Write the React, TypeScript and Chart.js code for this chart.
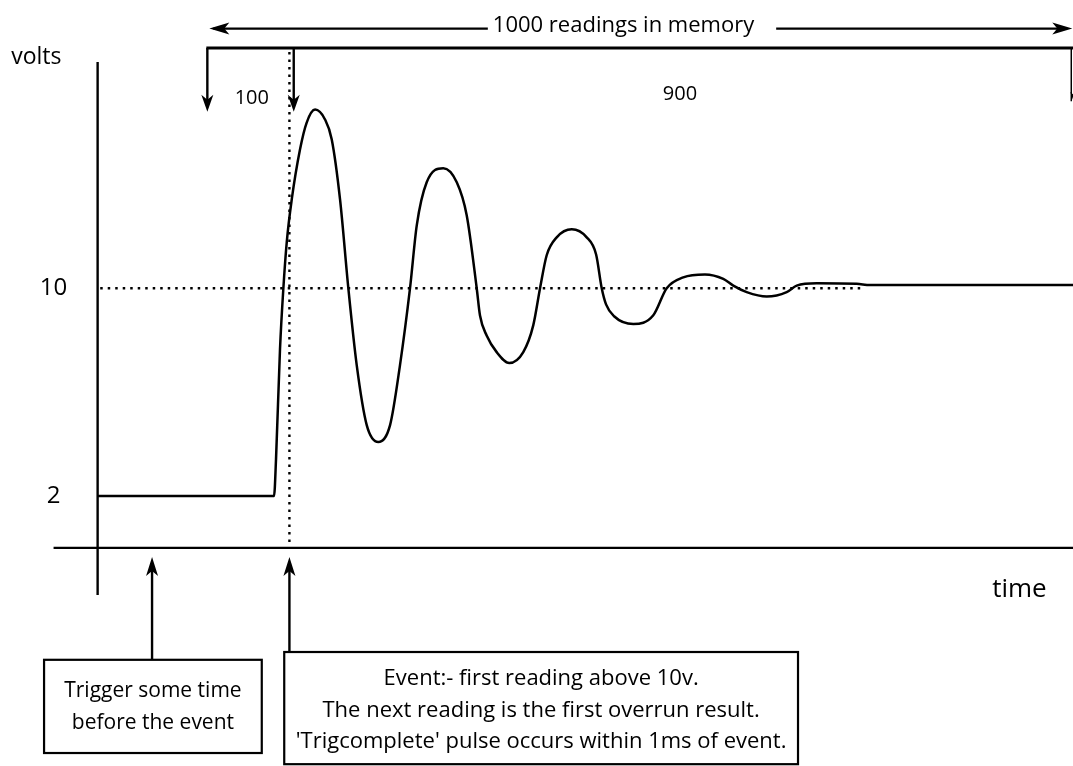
import React, { useEffect, useRef } from "react";
import { Chart, registerables } from "chart.js";

Chart.register(...registerables);

// ---- data: reading index (0 = first reading in memory) vs volts ----
const readingIndex = [
  -127, 77.2, 79.5, 84.1, 88, 91.9, 97.7, 107.3, 115, 124.7, 136.2, 144,
  153.6, 163.2, 172.9, 184.5, 197.9, 211.5, 223, 234.6, 242.4, 253.9, 273.1,
  288.7, 300.2, 311.8, 315.6, 323.3, 334.9, 349.5, 365.7, 377.3, 385.1,
  392.8, 404.4, 421.8, 439.1, 450, 456.5, 461.5, 470.8, 493.1, 516.2, 531.7,
  550.9, 576, 597.2, 608.8, 624.3, 647.5, 670.6, 682.2, 705.3, 751.6, 767,
  1002,
];
const volts = [
  2, 2, 3.42, 7.65, 10, 11.77, 13.42, 15.35, 16.38, 16.88, 16.5, 15.73,
  13.42, 10, 7.04, 4.73, 4.08, 4.73, 7.04, 10, 12.42, 14.08, 14.62, 14.08,
  12.81, 10, 8.95, 8.18, 7.54, 7.12, 7.54, 8.58, 10, 11.27, 11.96, 12.27,
  11.96, 11.3, 10, 9.38, 8.92, 8.62, 8.96, 10, 10.42, 10.53, 10.36, 10.1,
  9.85, 9.68, 9.85, 10.1, 10.19, 10.17, 10.12, 10.12,
];

// ---- labels / key values ----
const yTickValues = [10, 2];
const yTickLabels = ["10", "2"];
const threshold = 10;
const memoryStart = 0;
const memoryEnd = 1000;
const preTrigger = 100;
const eventReading = 95;
const triggerReading = -64;
const topLabel = "1000 readings in memory";
const preLabel = "100";
const postLabel = "900";
const yAxisTitle = "volts";
const xAxisTitle = "time";
const triggerText = ["Trigger some time", "before the event"];
const eventText = [
  "Event:- first reading above 10v.",
  "The next reading is the first overrun result.",
  "'Trigcomplete' pulse occurs within 1ms of event.",
];

const FONT = "'Open Sans', 'DejaVu Sans', sans-serif";

const diagramPlugin = {
  id: "diagram",
  afterDatasetsDraw(chart: any) {
    const ctx = chart.ctx as CanvasRenderingContext2D;
    const xs = chart.scales.x;
    const ys = chart.scales.y;
    const X = (v: number) => xs.getPixelForValue(v);
    const Y = (v: number) => ys.getPixelForValue(v);
    ctx.save();
    ctx.strokeStyle = "#000";
    ctx.fillStyle = "#000";
    ctx.lineCap = "butt";

    const line = (x1: number, y1: number, x2: number, y2: number, w = 2.2) => {
      ctx.lineWidth = w;
      ctx.beginPath();
      ctx.moveTo(x1, y1);
      ctx.lineTo(x2, y2);
      ctx.stroke();
    };
    const head = (tx: number, ty: number, dir: "up" | "down" | "left" | "right", L = 17, H = 6) => {
      ctx.beginPath();
      if (dir === "down") { ctx.moveTo(tx, ty); ctx.lineTo(tx - H, ty - L); ctx.lineTo(tx, ty - L + 5); ctx.lineTo(tx + H, ty - L); }
      if (dir === "up") { ctx.moveTo(tx, ty); ctx.lineTo(tx - H, ty + L); ctx.lineTo(tx, ty + L - 5); ctx.lineTo(tx + H, ty + L); }
      if (dir === "left") { ctx.moveTo(tx, ty); ctx.lineTo(tx + L, ty - H); ctx.lineTo(tx + L - 5, ty); ctx.lineTo(tx + L, ty + H); }
      if (dir === "right") { ctx.moveTo(tx, ty); ctx.lineTo(tx - L, ty - H); ctx.lineTo(tx - L + 5, ty); ctx.lineTo(tx - L, ty + H); }
      ctx.closePath();
      ctx.fill();
    };
    const text = (s: string, x: number, y: number, size: number, align: CanvasTextAlign = "center") => {
      ctx.font = `${size}px ${FONT}`;
      ctx.textAlign = align;
      ctx.textBaseline = "middle";
      ctx.fillText(s, x, y);
    };

    // axes
    line(X(-127), Y(18.71), X(-127), Y(-1.81), 2.4);
    line(X(-178), Y(0), X(1002), Y(0), 2.4);

    // dotted reference lines
    ctx.setLineDash([2.5, 5]);
    line(X(-124), Y(threshold), X(757), Y(threshold), 2.4);
    line(X(eventReading), Y(19.1), X(eventReading), Y(0.1), 2.4);
    ctx.setLineDash([]);

    // axis labels
    text(yAxisTitle, X(-198), Y(18.9), 23);
    yTickValues.forEach((v, i) => text(yTickLabels[i], X(-178), Y(v), 24));
    text(xAxisTitle, X(940), Y(-1.62), 26);

    // top "1000 readings" arrow
    const ty = Y(20.0);
    const tcx = X(481.7);
    ctx.font = `22px ${FONT}`;
    const tw = ctx.measureText(topLabel).width;
    line(X(memoryStart) + 6, ty, tcx - tw / 2 - 5, ty, 2.2);
    line(tcx + tw / 2 + 22, ty, X(memoryEnd) - 6, ty, 2.2);
    head(X(memoryStart) + 2, ty, "left", 20, 6);
    head(X(memoryEnd) + 1, ty, "right", 20, 6);
    text(topLabel, tcx, ty - 3, 22);

    // bracket with down arrows
    const by = Y(19.25);
    const tipY = Y(16.8);
    line(X(memoryStart) - 1, by, X(memoryEnd) + 2, by, 3);
    line(X(memoryStart), by, X(memoryStart), tipY - 6, 2.4);
    head(X(memoryStart), tipY, "down");
    line(X(preTrigger), by, X(preTrigger), tipY - 6, 2.4);
    head(X(preTrigger), tipY, "down");
    line(X(memoryEnd), by, X(memoryEnd), Y(17.2), 1.5);
    head(X(memoryEnd) + 5, Y(16.9), "down");
    text(preLabel, X(51.5), Y(17.33), 20);
    text(postLabel, X(547), Y(17.45), 20);

    // trigger arrow + box
    line(X(triggerReading), Y(-4.31), X(triggerReading), Y(-0.35) + 10, 2.4);
    head(X(triggerReading), Y(-0.35), "up", 19, 6);
    ctx.lineWidth = 2.2;
    const b1x1 = X(-189), b1x2 = X(63), b1y1 = Y(-4.31), b1y2 = Y(-7.9);
    ctx.strokeRect(b1x1, b1y1, b1x2 - b1x1, b1y2 - b1y1);
    text(triggerText[0], (b1x1 + b1x2) / 2, Y(-5.53), 21);
    text(triggerText[1], (b1x1 + b1x2) / 2, Y(-6.76), 21);

    // event arrow + box
    line(X(eventReading), Y(-4.01), X(eventReading), Y(-0.35) + 10, 2.4);
    head(X(eventReading), Y(-0.35), "up", 19, 6);
    ctx.lineWidth = 2.2;
    const b2x1 = X(89), b2x2 = X(683.7), b2y1 = Y(-4.01), b2y2 = Y(-8.33);
    ctx.strokeRect(b2x1, b2y1, b2x2 - b2x1, b2y2 - b2y1);
    const ev = [-5.05, -6.27, -7.47];
    eventText.forEach((s, i) => text(s, (b2x1 + b2x2) / 2, Y(ev[i]), 22));

    ctx.restore();
  },
};

export default function App() {
  const ref = useRef<HTMLCanvasElement | null>(null);
  useEffect(() => {
    if (!ref.current) return;
    const chart = new Chart(ref.current, {
      type: "line",
      data: {
        datasets: [
          {
            data: readingIndex.map((x, i) => ({ x, y: volts[i] })),
            borderColor: "#000",
            borderWidth: 2.5,
            pointRadius: 0,
            cubicInterpolationMode: "monotone",
            fill: false,
          },
        ],
      },
      options: {
        animation: false,
        responsive: false,
        maintainAspectRatio: false,
        layout: { padding: 0 },
        plugins: { legend: { display: false }, tooltip: { enabled: false } },
        scales: {
          x: { type: "linear", min: -240, max: 1002, display: false },
          y: { type: "linear", min: -8.4, max: 21.1, display: false },
        },
      },
      plugins: [diagramPlugin],
    } as any);
    return () => chart.destroy();
  }, []);
  return (
    <div style={{ position: "absolute", left: 0, top: 0, width: 1073, height: 766, background: "#fff" }}>
      <canvas ref={ref} width={1073} height={766} style={{ display: "block" }} />
    </div>
  );
}
